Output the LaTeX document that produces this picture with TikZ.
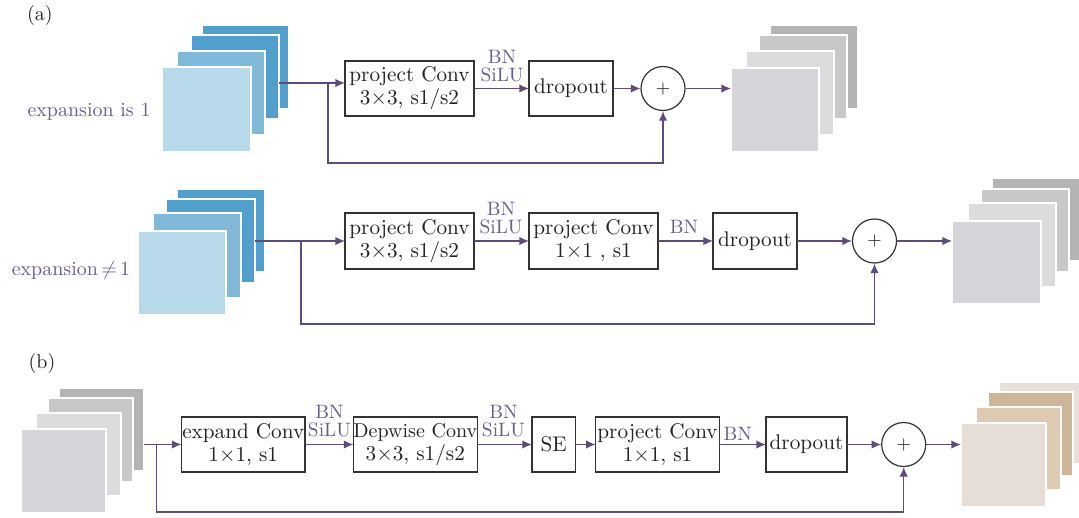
\documentclass[tikz,border=0pt]{standalone}
\usetikzlibrary{arrows.meta}
\definecolor{lc}{HTML}{5C4B7D}
\definecolor{tc}{HTML}{6B5A8C}
\definecolor{bdr}{HTML}{333333}
\definecolor{txt}{HTML}{222222}
\definecolor{bd}{HTML}{519FCC}
\definecolor{bm}{HTML}{80B9D8}
\definecolor{bl}{HTML}{B7D9E9}
\definecolor{ga}{HTML}{B3B4B6}
\definecolor{gb}{HTML}{C7C8CA}
\definecolor{gc}{HTML}{DBDCDE}
\definecolor{gd}{HTML}{D6D5DA}
\definecolor{ea}{HTML}{EAE0DA}
\definecolor{eb}{HTML}{CFB597}
\definecolor{ec}{HTML}{DECAB3}
\definecolor{ed}{HTML}{E7DDD7}
\newcommand\sqn[6]{\node[sqr,fill=#6,minimum width={(#4-#2)*0.5pt},minimum height={(#5-#3)*0.5pt}] (#1) at ({(#2+#4)/2},{(#3+#5)/2}) {};}
\newcommand\bxn[6]{\node[blk,minimum width={(#4-#2)*0.5pt},minimum height={(#5-#3)*0.5pt}] (#1) at ({(#2+#4)/2},{(#3+#5)/2}) {#6};}
\begin{document}
\begin{tikzpicture}[x=0.5pt,y=-0.5pt,
  sqr/.style={rectangle,draw=white,line width=0.6pt,inner sep=0pt,outer sep=0pt},
  blk/.style={rectangle,draw=bdr,line width=0.6pt,fill=white,inner sep=0pt,outer sep=0pt,align=center,text=txt,font=\fontsize{10.6}{11.5}\selectfont},
  arr/.style={draw=lc,line width=0.65pt,-{Latex[length=4.8pt,width=4.2pt]}},
  lab/.style={text=tc,inner sep=0pt,align=center,font=\fontsize{9.7}{9}\selectfont},
  side/.style={text=tc,inner sep=0pt,font=\fontsize{10}{11}\selectfont},
  tag/.style={text=txt,inner sep=0pt,font=\fontsize{10}{12}\selectfont},
  sumc/.style={circle,draw=bdr,line width=0.6pt,fill=white,minimum size=22pt,inner sep=0pt,text=txt,font=\fontsize{9}{9}\selectfont}]
\useasboundingbox (0,0) rectangle (1079,518);

% ---------- (a) row 1 ----------
\node[tag] (ta) at (40,16) {(a)};
\sqn{i1a}{202}{25}{289}{109}{bd}
\sqn{i1b}{191}{35}{279}{119}{bd}
\sqn{i1c}{177}{51}{265}{135}{bm}
\sqn{i1d}{162}{67}{251}{152}{bl}
\node[side] (e1) at (89,112) {expansion is 1};
\bxn{pc1}{345}{61}{474}{116}{project Conv\\3×3, s1/s2}
\bxn{do1}{529}{61}{613}{116}{dropout}
\node[sumc] (ad1) at (663,88.5) {+};
\sqn{o1a}{770}{25}{858}{109}{ga}
\sqn{o1b}{759}{35}{847}{119}{gb}
\sqn{o1c}{746}{51}{834}{135}{gc}
\sqn{o1d}{731}{68}{819}{152}{gd}
\node[lab] (l1) at (502,66) {BN\\SiLU};
\coordinate (st1) at (279,83);
\coordinate (br1) at (328,83);
\coordinate (bt1) at (328,163);
\draw[arr] (st1) -- (st1 -| pc1.west);
\draw[arr] (pc1.east) -- (do1.west);
\draw[arr] (do1.east) -- (ad1.west);
\draw[arr] (ad1.east) -- (ad1.east -| o1d.west);
\draw[arr] (br1) -- (bt1) -| (ad1.south);

% ---------- (a) row 2 ----------
\sqn{i2a}{177}{189}{265}{272}{bd}
\sqn{i2b}{166}{199}{255}{283}{bd}
\sqn{i2c}{153}{213}{241}{298}{bm}
\sqn{i2d}{138}{231}{226}{315}{bl}
\node[side] (e2) at (71,270) {expansion\,$\neq$\,1};
\bxn{pc2}{345}{213}{474}{269}{project Conv\\3×3, s1/s2}
\bxn{pc3}{529}{213}{658}{269}{project Conv\\1×1 , s1}
\bxn{do2}{713}{213}{797}{269}{dropout}
\node[sumc] (ad2) at (874.5,241) {+};
\sqn{o2a}{992}{178}{1080}{261}{ga}
\sqn{o2b}{981}{189}{1069}{272}{gb}
\sqn{o2c}{968}{203}{1056}{287}{gc}
\sqn{o2d}{952}{221}{1041}{304}{gd}
\node[lab] (l2) at (501,218) {BN\\SiLU};
\node[lab] (l3) at (684,227) {BN};
\coordinate (st2) at (255,241);
\coordinate (br2) at (301,241);
\coordinate (bt2) at (301,324);
\draw[arr] (st2) -- (pc2.west);
\draw[arr] (pc2.east) -- (pc3.west);
\draw[arr] (pc3.east) -- (do2.west);
\draw[arr] (do2.east) -- (ad2.west);
\draw[arr] (ad2.east) -- (ad2.east -| o2d.west);
\draw[arr] (br2) -- (bt2) -| (ad2.south);

% ---------- (b) ----------
\node[tag] (tb) at (42,363) {(b)};
\sqn{i3a}{59}{388}{144}{471}{ga}
\sqn{i3b}{48}{398}{133}{482}{gb}
\sqn{i3c}{36}{413}{121}{496}{gc}
\sqn{i3d}{21}{429}{106}{513}{gd}
\bxn{ex}{181.5}{417}{305}{472}{expand Conv\\1×1, s1}
\bxn{dw}{353.6}{417}{477}{472}{\fontsize{10}{11.5}\selectfont Depwise Conv\\3×3, s1/s2}
\bxn{se}{532}{417}{575.4}{472}{SE}
\bxn{pc4}{595.7}{417}{719.4}{472}{project Conv\\1×1, s1}
\bxn{do3}{766}{417}{847}{472}{dropout}
\node[sumc] (ad3) at (903.7,444.5) {+};
\sqn{o3a}{999}{382}{1080}{464}{ea}
\sqn{o3b}{988}{392}{1073}{476}{eb}
\sqn{o3c}{976}{407}{1061}{490}{ec}
\sqn{o3d}{961}{423}{1046}{507}{ed}
\node[lab] (l4) at (329.4,421) {BN\\SiLU};
\node[lab] (l5) at (503.4,421) {BN\\SiLU};
\node[lab] (l6) at (737.7,434) {BN};
\coordinate (st3) at (144,444.5);
\coordinate (br3) at (156.5,444.5);
\coordinate (bt3) at (156.5,512);
\draw[arr] (st3) -- (ex.west);
\draw[arr] (ex.east) -- (dw.west);
\draw[arr] (dw.east) -- (se.west);
\draw[arr] (se.east) -- (pc4.west);
\draw[arr] (pc4.east) -- (do3.west);
\draw[arr] (do3.east) -- (ad3.west);
\draw[arr] (ad3.east) -- (ad3.east -| o3d.west);
\draw[arr] (br3) -- (bt3) -| (ad3.south);
\end{tikzpicture}
\end{document}
